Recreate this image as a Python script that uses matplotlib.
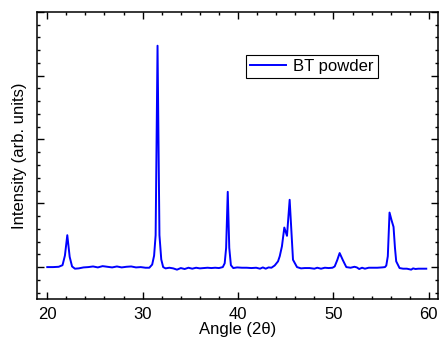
import matplotlib
matplotlib.use('Agg')
import matplotlib.pyplot as plt
from matplotlib.ticker import MultipleLocator, NullFormatter

plt.rcParams['font.family'] = ['Liberation Sans', 'DejaVu Sans']

# XRD pattern of BT powder
angle = [20.0, 20.6, 21.2, 21.6, 21.85, 22.1, 22.35, 22.6, 22.9, 23.3,
         23.8, 24.3, 24.8, 25.3, 25.8, 26.3, 26.8, 27.3, 27.8, 28.3,
         28.8, 29.3, 29.8, 30.3, 30.7, 31.0, 31.2, 31.36, 31.56, 31.76,
         31.95, 32.15, 32.4, 32.8, 33.2, 33.6, 34.0, 34.4, 34.8, 35.2,
         35.6, 36.0, 36.4, 36.8, 37.2, 37.6, 38.0, 38.4, 38.6, 38.75,
         38.92, 39.08, 39.25, 39.5, 39.9, 40.4, 40.9, 41.4, 41.9, 42.3,
         42.6, 42.9, 43.2, 43.5, 43.84, 44.19, 44.37, 44.6, 44.85, 45.13,
         45.41, 45.76, 46.18, 46.6, 47.0, 47.5, 48.0, 48.3, 48.7, 49.1,
         49.5, 49.9, 50.13, 50.4, 50.65, 51.0, 51.35, 51.8, 52.2, 52.45,
         52.7, 53.0, 53.3, 53.7, 54.1, 54.6, 55.1, 55.4, 55.54, 55.7,
         55.88, 56.1, 56.3, 56.45, 56.58, 56.93, 57.3, 57.7, 58.15, 58.35,
         58.6, 58.9, 59.3, 59.73]
intensity = [0, 0, 5, 30, 180, 500, 160, 10, -25, -20,
             -5, 0, 10, -5, 15, 5, -5, 10, -5, 5,
             10, -5, 0, -10, -10, 40, 180, 500, 3470, 500,
             120, 0, -20, -10, -20, -40, -15, -30, -10, -25,
             -10, -20, -15, -10, -15, -10, -15, 0, 60, 300,
             1180, 300, 30, -15, -5, -10, -10, -15, -10, -25,
             -5, -25, -5, -10, 25, 90, 170, 325, 620, 490,
             1055, 115, 0, -20, -15, -15, -25, -10, -25, -10,
             -15, -10, 10, 110, 220, 105, 0, -10, 5, -5,
             -30, -10, -25, -10, -10, -10, -5, 0, 25, 170,
             855, 730, 630, 300, 90, -15, -25, -25, -40, -20,
             -30, -25, -25, -25]

fig = plt.figure(figsize=(4.4, 3.4), dpi=100)
ax = fig.add_axes([0.084, 0.1206, 0.911, 0.8444])

ax.plot(angle, intensity, color='#0000ff', lw=1.4, label='BT powder')

ax.set_xlim(18.92, 60.94)
ax.set_ylim(-500, 4000)
ax.xaxis.set_major_locator(MultipleLocator(10))
ax.xaxis.set_minor_locator(MultipleLocator(2))
ax.yaxis.set_major_locator(MultipleLocator(1000))
ax.yaxis.set_minor_locator(MultipleLocator(200))
ax.yaxis.set_major_formatter(NullFormatter())

ax.tick_params(which='both', direction='in', top=True, right=True, width=1.0)
ax.tick_params(which='major', length=5, labelsize=12, pad=6)
ax.tick_params(which='minor', length=2.5)
for s in ax.spines.values():
    s.set_linewidth(1.1)

ax.set_xlabel('Angle (2θ)', fontsize=12, labelpad=0)
ax.set_ylabel('Intensity (arb. units)', fontsize=12, labelpad=1)

leg = ax.legend(loc='upper right', bbox_to_anchor=(0.85, 0.85), borderaxespad=0,
                fontsize=12, fancybox=False, framealpha=1, edgecolor='black',
                handlelength=2.2, handletextpad=0.4, borderpad=0.25)
leg.get_frame().set_linewidth(0.8)

fig.savefig('out.png', dpi=100)
